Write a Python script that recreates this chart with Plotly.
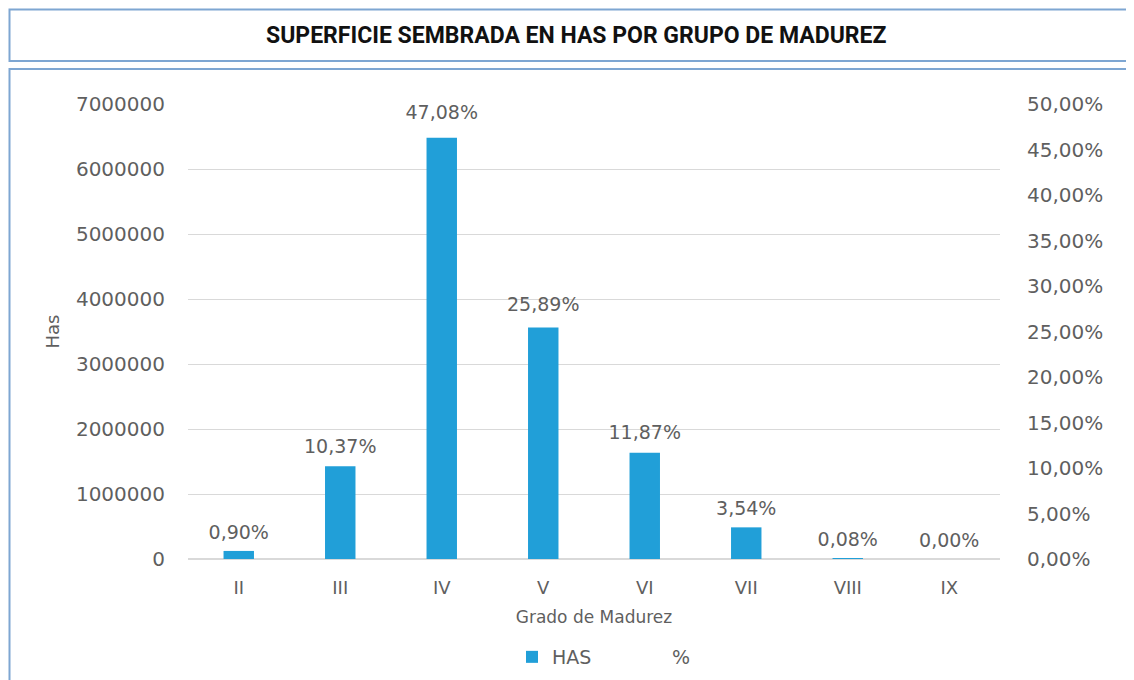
import plotly.graph_objects as go

categories = ["II", "III", "IV", "V", "VI", "VII", "VIII", "IX"]
has_values = [124000, 1427000, 6480000, 3563000, 1634000, 487000, 11000, 0]
pct_values = [0.90, 10.37, 47.08, 25.89, 11.87, 3.54, 0.08, 0.00]
left_ticks = [0, 1000000, 2000000, 3000000, 4000000, 5000000, 6000000, 7000000]

# the page body has an 8px margin; work in page pixel coordinates
OFF = 8
W, H = 1134 - OFF, 680 - OFF
PL, PR, PT, PB = 188, 1000, 104, 559  # plot area in page px
L, T = PL - OFF, PT - OFF
R = W - (PR - OFF)
B = H - (PB - OFF)
PW, PH = PR - PL, PB - PT

def px_x(px):
    return (px - PL) / PW

def px_y(py):
    return (PB - py) / PH

font_family = "DejaVu Sans, Open Sans, sans-serif"
gray = "#5f5f5f"

pct_text = [f"{p:.2f}".replace(".", ",") + "%" for p in pct_values]

fig = go.Figure()
fig.add_trace(go.Bar(
    x=categories, y=has_values, name="HAS",
    marker=dict(color="#219fd8", line=dict(width=0)),
    yaxis="y",
))
fig.add_trace(go.Scatter(
    x=categories, y=[p / 100 for p in pct_values], name="%",
    mode="lines+markers+text", text=pct_text, textposition="top center",
    textfont=dict(size=19, color=gray, family=font_family),
    line=dict(color="rgba(0,0,0,0)", width=0),
    marker=dict(size=10, color="rgba(0,0,0,0)"),
    yaxis="y2", cliponaxis=False,
))

border = "#7ea6d2"
fig.update_layout(
    width=W, height=H,
    margin=dict(l=L, r=R, t=T, b=B, autoexpand=False),
    paper_bgcolor="white", plot_bgcolor="white",
    separators=",.",
    bargap=0.7,
    font=dict(family=font_family, color=gray, size=18),
    xaxis=dict(
        type="category", showgrid=False, showline=False, zeroline=False,
        ticks="", ticklabelstandoff=16, automargin=False,
        tickfont=dict(size=18, color=gray),
        title=dict(text="Grado de Madurez", font=dict(size=17, color=gray), standoff=14),
    ),
    yaxis=dict(
        range=[0, 7000000], tickvals=left_ticks, tickformat="d",
        showgrid=True, gridcolor="#d9d9d9", gridwidth=1,
        zeroline=True, zerolinecolor="#d9d9d9", showline=False,
        ticks="", ticklabelstandoff=22, automargin=False,
        tickfont=dict(size=20, color=gray),
        title=dict(text="Has", font=dict(size=18, color=gray), standoff=11),
    ),
    yaxis2=dict(
        range=[0, 0.5], dtick=0.05, tickformat=".2%", overlaying="y", side="right",
        showgrid=False, zeroline=False, showline=False,
        ticks="", ticklabelstandoff=26, automargin=False,
        tickfont=dict(size=20, color=gray),
    ),
    legend=dict(
        orientation="h", x=px_x(512), xanchor="left", y=px_y(657), yanchor="middle",
        font=dict(size=19, color=gray), itemwidth=30, entrywidth=75,
        bgcolor="rgba(0,0,0,0)",
    ),
    showlegend=True,
    shapes=[
        dict(type="rect", xref="paper", yref="paper",
             x0=px_x(9.5), x1=px_x(1160), y0=px_y(61), y1=px_y(9.5),
             line=dict(color=border, width=2), fillcolor="rgba(0,0,0,0)", layer="below"),
        dict(type="rect", xref="paper", yref="paper",
             x0=px_x(9.5), x1=px_x(1160), y0=px_y(720), y1=px_y(69),
             line=dict(color=border, width=2), fillcolor="rgba(0,0,0,0)", layer="below"),
    ],
    annotations=[
        dict(text="<b>SUPERFICIE SEMBRADA EN HAS POR GRUPO DE MADUREZ</b>",
             xref="paper", yref="paper", x=px_x(576), y=px_y(35),
             xanchor="center", yanchor="middle", showarrow=False,
             font=dict(family="Roboto, Liberation Sans, sans-serif",
                       size=23, color="#111111")),
    ],
)

fig.write_html("out.html")
